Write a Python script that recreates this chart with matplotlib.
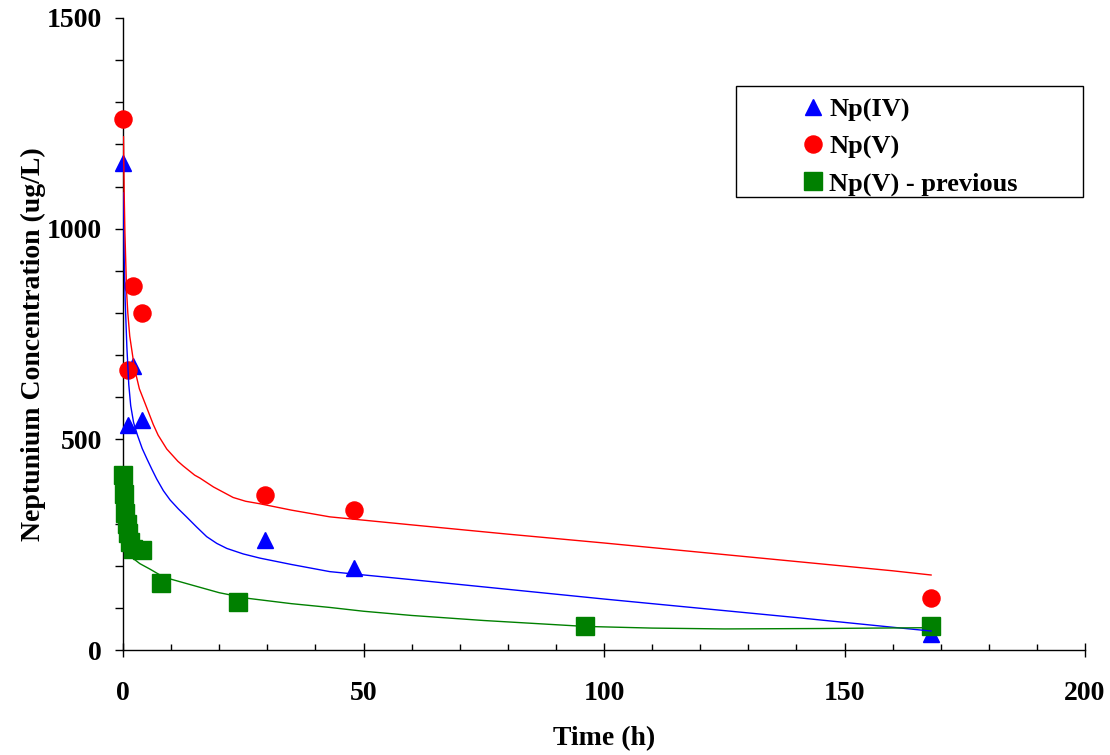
import matplotlib
matplotlib.use("Agg")
import matplotlib.pyplot as plt
from matplotlib.ticker import MultipleLocator
from matplotlib.patches import Rectangle

plt.rcParams['font.family'] = ['Liberation Serif', 'DejaVu Serif']
plt.rcParams['font.weight'] = 'bold'

# ---- data ----
iv_t = [0, 1, 2, 4, 29.5, 48, 168]
iv_v = [1155, 535, 675, 545, 260, 195, 38]

v_t = [0, 1, 2, 4, 29.5, 48, 168]
v_v = [1260, 665, 865, 800, 368, 332, 123]

prev_t = [0, 0.25, 0.5, 0.75, 1, 1.5, 2, 4, 8, 24, 96, 168]
prev_v = [415, 370, 325, 300, 278, 256, 240, 237, 159, 113, 57, 57]

# fitted trend curves
red_fit_t = [0.1, 0.25, 0.4, 0.75, 1.0, 1.4, 2.4, 3.4, 4.6, 6.3, 7.3, 9.1, 11.4, 12.5, 14.9, 16,
             18.8, 22.9, 25.5, 28.5, 35, 43, 60, 80, 100, 120, 140, 160, 168]
red_fit_v = [1218, 1080, 990, 850, 800, 745, 668, 620, 585, 535, 510, 477, 448, 437, 415, 408,
             387, 362, 353, 347, 332, 316, 297, 275, 254, 232, 210, 188, 178]

blue_fit_t = [0.1, 0.25, 0.45, 0.8, 1.2, 1.6, 2.2, 3.0, 4.0, 5.0, 6.0, 7.0, 8.4, 9.8, 11.5, 13.2,
              15.3, 17.4, 19.5, 21.6, 25, 28.5, 35, 43, 60, 80, 100, 120, 140, 160, 168]
blue_fit_v = [1085, 930, 830, 720, 630, 580, 540, 510, 478, 453, 429, 406, 378, 356, 335, 316,
              292, 269, 253, 241, 228, 218, 203, 186, 167, 144, 121, 99, 77, 54, 45]

green_fit_t = [0.5, 1.0, 1.8, 3.5, 5.6, 8, 10, 15.3, 20, 25.7, 35, 43, 50, 60, 75, 96, 110, 125,
               145, 168]
green_fit_v = [265, 240, 220, 205, 192, 176, 168, 151, 136, 123, 110, 101, 92, 82, 70, 56, 52, 50,
               51, 53]

x_ticks = [0, 50, 100, 150, 200]
y_ticks = [0, 500, 1000, 1500]

W, H = 1110, 755
fig = plt.figure(figsize=(W / 100, H / 100), dpi=100)
ax = fig.add_axes([123 / W, 1 - 650 / H, (1085 - 123) / W, (650 - 18) / H])

BLUE, RED, GREEN = '#0000FF', '#FF0000', '#008000'

h_iv, = ax.plot(iv_t, iv_v, linestyle='none', marker='^', markersize=11.5, color=BLUE,
                clip_on=False, zorder=3, label='Np(IV)')
h_v, = ax.plot(v_t, v_v, linestyle='none', marker='o', markersize=12.3, color=RED,
               clip_on=False, zorder=3, label='Np(V)')
h_p, = ax.plot(prev_t, prev_v, linestyle='none', marker='s', markersize=12.3, color=GREEN,
               clip_on=False, zorder=3, label='Np(V) - previous')

ax.plot(blue_fit_t, blue_fit_v, color=BLUE, linewidth=1.0, zorder=4)
ax.plot(red_fit_t, red_fit_v, color=RED, linewidth=1.0, zorder=4)
ax.plot(green_fit_t, green_fit_v, color=GREEN, linewidth=1.0, zorder=4)

ax.set_xlim(0, 200)
ax.set_ylim(0, 1500)
ax.set_xticks(x_ticks)
ax.set_yticks(y_ticks)
ax.xaxis.set_minor_locator(MultipleLocator(10))
ax.yaxis.set_minor_locator(MultipleLocator(100))

for s in ['top', 'right']:
    ax.spines[s].set_visible(False)
for s in ['left', 'bottom']:
    ax.spines[s].set_linewidth(1.0)
    ax.spines[s].set_color('black')

ax.tick_params(axis='x', which='major', direction='inout', length=10, width=1.0,
               pad=17, labelsize=20)
ax.tick_params(axis='x', which='minor', direction='in', length=4.5, width=1.0)
ax.tick_params(axis='y', which='major', direction='out', length=6, width=1.0,
               pad=9, labelsize=20)
ax.tick_params(axis='y', which='minor', direction='out', length=6, width=1.0)
for lab in ax.get_xticklabels() + ax.get_yticklabels():
    lab.set_fontweight('bold')

ax.set_xlabel('Time (h)', fontsize=20, fontweight='bold')
ax.xaxis.label.set_va('baseline')
ax.xaxis.set_label_coords(0.5, (650 - 745) / 632)
ax.set_ylabel('Neptunium Concentration (ug/L)', fontsize=20, fontweight='bold')
ax.yaxis.label.set_va('center')
ax.yaxis.label.set_ha('center')
ax.yaxis.set_label_coords((33 - 123) / 962, (650 - 344) / 632)

# legend box
fig.patches.append(Rectangle((736 / W, 1 - 197 / H), (1083 - 736) / W, (197 - 86) / H,
                             transform=fig.transFigure, facecolor='white',
                             edgecolor='black', linewidth=1.0, zorder=5))
leg = fig.legend(handles=[h_iv, h_v, h_p], loc='upper left',
                 bbox_to_anchor=(800 / W, 1 - 98 / H), frameon=False,
                 prop={'family': 'Liberation Serif', 'weight': 'bold', 'size': 19},
                 handlelength=1.0, handletextpad=0.1, borderpad=0.0,
                 labelspacing=0.5, borderaxespad=0.0)
leg.set_zorder(6)

fig.savefig('out.png', dpi=100)
